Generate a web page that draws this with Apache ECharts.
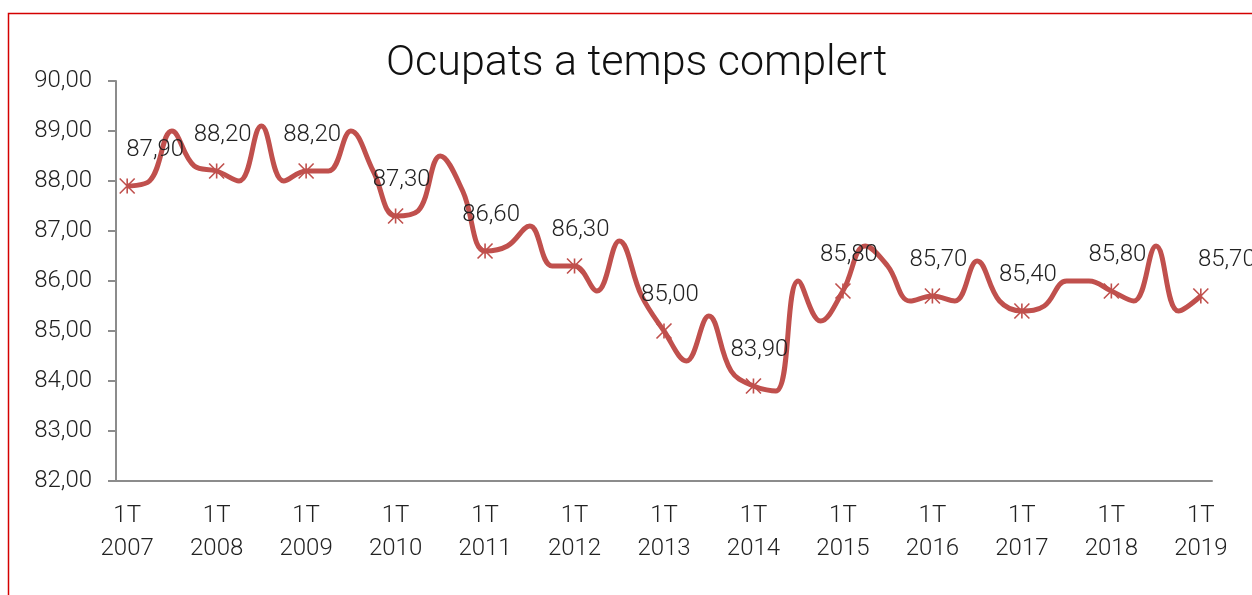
<!DOCTYPE html>
<html>
<head>
<meta charset="utf-8">
<title>Ocupats a temps complert</title>
<script src="https://cdn.jsdelivr.net/npm/echarts@6/dist/echarts.min.js"></script>
<style>
  html, body { margin: 0; padding: 0; background: #fff; }
  #chart { width: 1252px; height: 595px; }
</style>
</head>
<body>
<div id="chart"></div>
<script>
// dades trimestrals, de 1T 2007 a 1T 2019
const anys = [2007, 2008, 2009, 2010, 2011, 2012, 2013, 2014, 2015, 2016, 2017, 2018, 2019];
const trimestres = ["1T", "2T", "3T", "4T"];
const ocupats = [
  87.9, 88.0, 89.0, 88.3,
  88.2, 88.0, 89.1, 88.0,
  88.2, 88.2, 89.0, 88.2,
  87.3, 87.4, 88.5, 87.8,
  86.6, 86.7, 87.1, 86.3,
  86.3, 85.8, 86.8, 85.7,
  85.0, 84.4, 85.3, 84.2,
  83.9, 83.8, 86.0, 85.2,
  85.8, 86.7, 86.3, 85.6,
  85.7, 85.6, 86.4, 85.6,
  85.4, 85.5, 86.0, 86.0,
  85.8, 85.6, 86.7, 85.4,
  85.7
];
const yMin = 82;
const yMax = 90;

const categories = [];
anys.forEach(function(a) {
  trimestres.forEach(function(t) {
    if (a < 2019 || t === "1T") categories.push(t + " " + a);
  });
});

const vermell = "#C0504D";
const estrella = "path://M0,0L16,16M16,0L0,16M8,0L8,16";
const font = "Roboto, 'DejaVu Sans Condensed', sans-serif";

const seriesData = ocupats.map(function(v, i) {
  const primer = i % 4 === 0;
  let dx = 6;
  if (i === 0) dx = 28;
  if (i === ocupats.length - 1) dx = 26;
  return {
    value: v,
    symbol: primer ? estrella : "none",
    label: { show: primer, offset: [dx, 0] }
  };
});

const myChart = echarts.init(document.getElementById("chart"));
const option = {
  animation: false,
  backgroundColor: "#fff",
  title: {
    text: "Ocupats a temps complert",
    left: 381,
    top: 38,
    textStyle: {
      fontFamily: "Roboto, 'Liberation Sans', sans-serif",
      fontWeight: 300,
      fontSize: 43,
      color: "#111"
    }
  },
  graphic: [{
    type: "rect",
    shape: { x: 8.5, y: 13.5, width: 1400, height: 800 },
    style: { fill: "none", stroke: "#d40000", lineWidth: 1.5 },
    silent: true
  }],
  grid: { left: 116, right: 40, top: 81, bottom: 114 },
  xAxis: {
    type: "category",
    data: categories,
    boundaryGap: true,
    axisLine: { lineStyle: { color: "#8c8c8c", width: 2 } },
    axisTick: {
      interval: 3,
      length: 8,
      lineStyle: { color: "#8c8c8c", width: 2 }
    },
    axisLabel: {
      interval: 3,
      margin: 18,
      color: "#222",
      fontFamily: font,
      fontWeight: 300,
      fontSize: 24,
      lineHeight: 33,
      formatter: function(val) { return val.replace(" ", "\n"); }
    }
  },
  yAxis: {
    type: "value",
    min: yMin,
    max: yMax,
    interval: 1,
    axisLine: { show: true, lineStyle: { color: "#8c8c8c", width: 2 } },
    axisTick: { show: true, length: 8, lineStyle: { color: "#8c8c8c", width: 2 } },
    splitLine: { show: false },
    axisLabel: {
      margin: 24,
      color: "#222",
      fontFamily: font,
      fontWeight: 300,
      fontSize: 24,
      formatter: function(v) { return v.toFixed(2).replace(".", ","); }
    }
  },
  series: [{
    type: "line",
    data: seriesData,
    smooth: 0.4,
    symbolSize: 15,
    lineStyle: { color: vermell, width: 5 },
    itemStyle: { color: "none", borderColor: vermell, borderWidth: 1.6 },
    label: {
      position: "top",
      distance: 14,
      color: "#222",
      fontFamily: font,
      fontWeight: 300,
      fontSize: 24,
      formatter: function(p) { return p.value.toFixed(2).replace(".", ","); }
    },
    z: 3
  }]
};
myChart.setOption(option);
</script>
</body>
</html>
